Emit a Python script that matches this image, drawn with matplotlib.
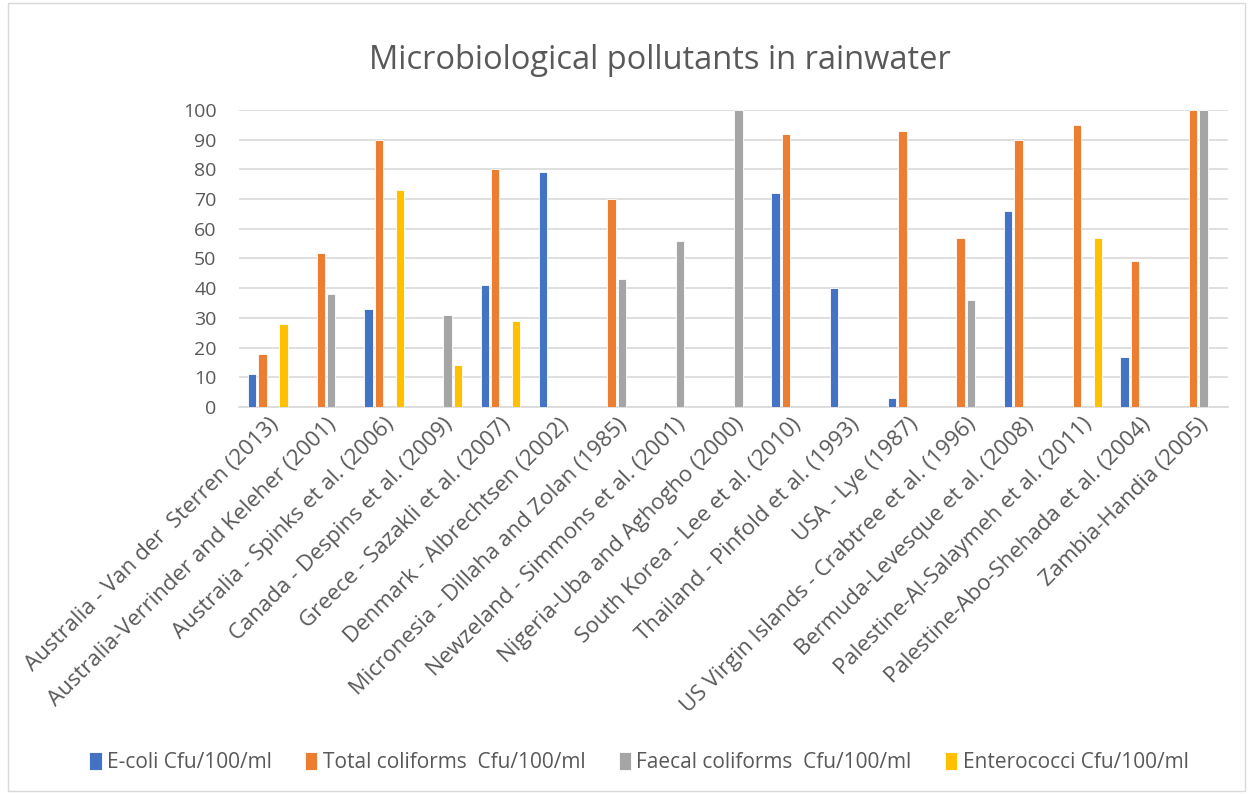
import numpy as np
import matplotlib.pyplot as plt
from matplotlib.patches import Rectangle

studies = [
    "Australia - Van der  Sterren (2013)",
    "Australia-Verrinder and Keleher (2001)",
    "Australia - Spinks et al. (2006)",
    "Canada - Despins et al. (2009)",
    "Greece - Sazakli et al. (2007)",
    "Denmark - Albrechtsen (2002)",
    "Micronesia - Dillaha and Zolan (1985)",
    "Newzeland - Simmons et al. (2001)",
    "Nigeria-Uba and Aghogho (2000)",
    "South Korea - Lee et al. (2010)",
    "Thailand - Pinfold et al. (1993)",
    "USA - Lye (1987)",
    "US Virgin Islands - Crabtree et al. (1996)",
    "Bermuda-Levesque et al. (2008)",
    "Palestine-Al-Salaymeh et al. (2011)",
    "Palestine-Abo-Shehada et al. (2004)",
    "Zambia-Handia (2005)",
]
ecoli       = [11, 0, 33, 0, 41, 79, 0, 0, 0, 72, 40, 3, 0, 66, 0, 17, 0]
total_coli  = [18, 52, 90, 0, 80, 0, 70, 0, 0, 92, 0, 93, 57, 90, 95, 49, 100]
faecal_coli = [0, 38, 0, 31, 0, 0, 43, 56, 100, 0, 0, 0, 36, 0, 0, 0, 100]
enterococci = [28, 0, 73, 14, 29, 0, 0, 0, 0, 0, 0, 0, 0, 0, 57, 0, 0]

series = [
    ("E-coli Cfu/100/ml", ecoli, "#4472C4"),
    ("Total coliforms  Cfu/100/ml", total_coli, "#ED7D31"),
    ("Faecal coliforms  Cfu/100/ml", faecal_coli, "#A5A5A5"),
    ("Enterococci Cfu/100/ml", enterococci, "#FFC000"),
]

plt.rcParams['font.family'] = ['Open Sans', 'DejaVu Sans']
txt = "#595959"

fig = plt.figure(figsize=(12.5, 7.94), dpi=100)
ax = fig.add_axes([0.191, 0.4874, 0.791, 0.3741])

x = np.arange(len(studies))
step = 0.18
width = 0.145
for i, (name, vals, col) in enumerate(series):
    ax.bar(x + (i - 1.5) * step, vals, width, color=col, label=name,
           edgecolor="white", linewidth=0.6, zorder=3)

ax.set_xlim(-0.5, len(studies) - 0.5)
ax.set_ylim(0, 100)
ax.set_yticks(range(0, 101, 10))
ax.yaxis.grid(True, color="#d9d9d9", linewidth=1.2, zorder=0)
ax.tick_params(axis="y", length=0, labelsize=14, labelcolor=txt, pad=16)
ax.tick_params(axis="x", length=0, labelsize=16, labelcolor=txt, pad=5)
ax.set_xticks(x)
ax.set_xticklabels(studies, rotation=45, ha="right", rotation_mode="anchor")
for s in ["top", "right", "left"]:
    ax.spines[s].set_visible(False)
ax.spines["bottom"].set_color("#d9d9d9")
ax.spines["bottom"].set_linewidth(1.2)

fig.text(0.528, 0.924, "Microbiological pollutants in rainwater",
         ha="center", va="center", fontsize=23.5, color=txt)

fig.legend(loc="center", bbox_to_anchor=(0.511, 0.04), ncol=4, frameon=False,
           fontsize=15, labelcolor=txt, handlelength=0.6, handleheight=1.0,
           handletextpad=0.25, columnspacing=1.6)

# chart border
fig.patches.append(Rectangle((0.006, 0.004), 0.99, 0.992, transform=fig.transFigure,
                             fill=False, edgecolor="#d9d9d9", linewidth=1))

fig.savefig("out.png", dpi=100)
